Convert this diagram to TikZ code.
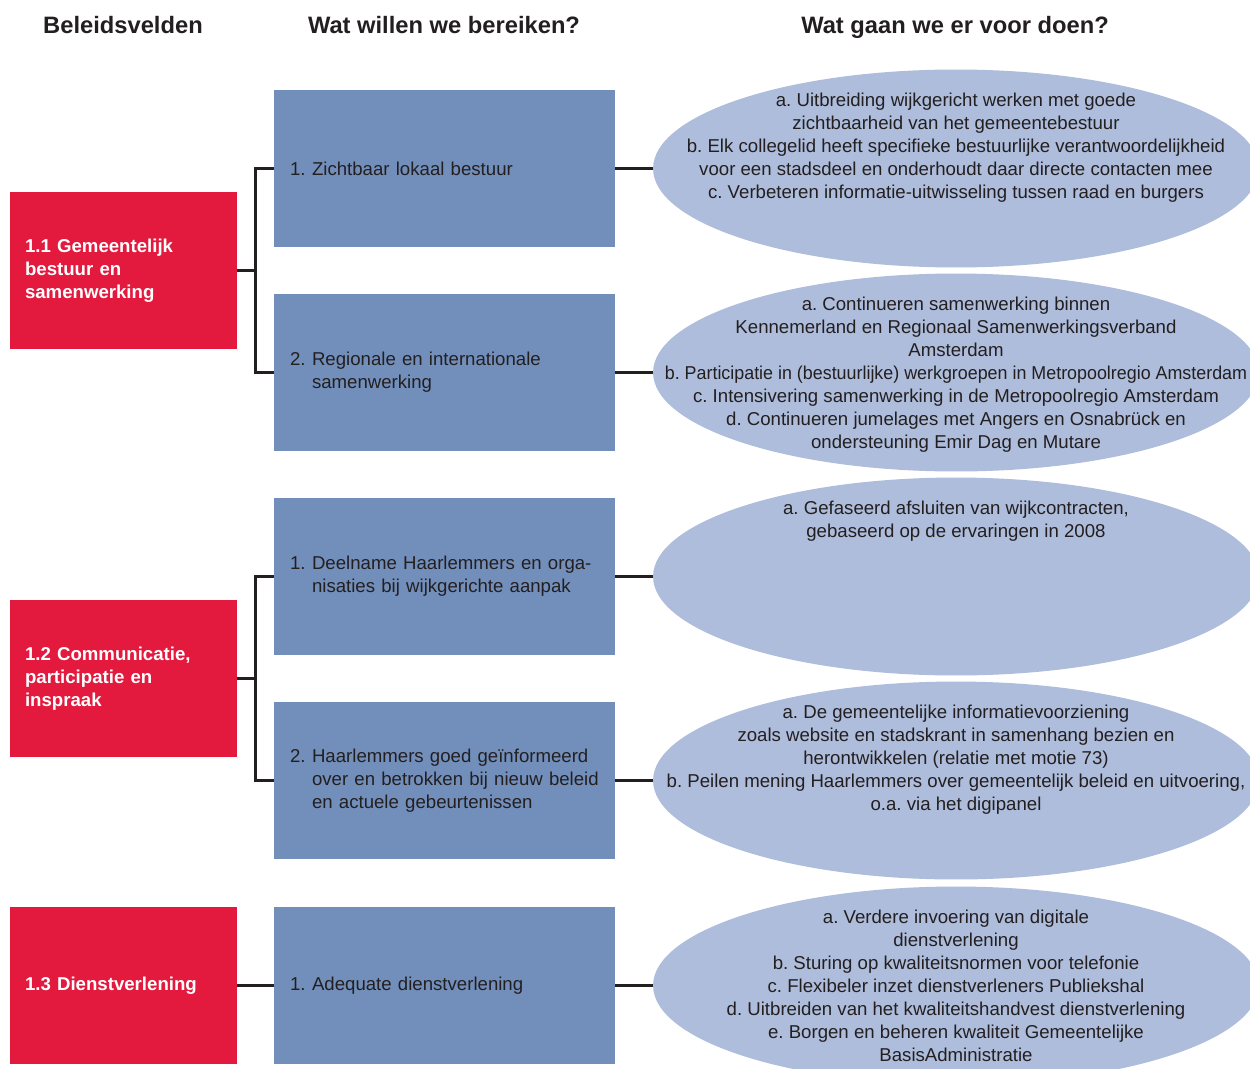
\documentclass[tikz,border=0pt]{standalone}
\usepackage{fontspec}
\setmainfont{Liberation Sans}
\usetikzlibrary{positioning,shapes.geometric}
\definecolor{veldrood}{RGB}{227,25,62}
\definecolor{doelblauw}{RGB}{114,143,187}
\definecolor{actieblauw}{RGB}{174,189,219}
\definecolor{tekstgrijs}{RGB}{35,31,32}
\newcommand{\nr}[1]{\makebox[0.44cm][l]{#1}}
\newcommand{\inspring}{\hspace*{0.44cm}}

\begin{document}
\frenchspacing
\begin{tikzpicture}[x=0.02cm, y=-0.02cm,
    kop/.style={font=\fontsize{13.5}{16}\selectfont\bfseries, text=tekstgrijs, anchor=base},
    veld/.style={fill=veldrood, text=white, font=\fontsize{10.6}{13.1}\selectfont\bfseries,
        text width=3.94cm, inner xsep=0.3cm, minimum height=3.14cm, align=left},
    doel/.style={fill=doelblauw, text=tekstgrijs, font=\fontsize{10.6}{13.1}\selectfont,
        text width=6.18cm, inner xsep=0.32cm, minimum height=3.14cm, align=left},
    actie/.style={ellipse, fill=actieblauw, minimum width=12.12cm, minimum height=3.96cm, inner sep=0},
    actietekst/.style={text=tekstgrijs, font=\fontsize{10.6}{13.1}\selectfont, align=center, inner sep=0},
    lijn/.style={draw=tekstgrijs, line width=0.05cm}]
        \useasboundingbox (0,0) rectangle (1250,1068);
        \clip (0,0) rectangle (1250,1068);
        % kolomkoppen
        \node[kop] (kop1) at (123,33.5) {Beleidsvelden};
        \node[kop] (kop2) at (444,33.5) {Wat willen we bereiken?};
        \node[kop] (kop3) at (955,33.5) {Wat gaan we er voor doen?};
        % beleidsvelden
        \node[veld] (v1) at (123.5,270.5) {1.1 Gemeentelijk\\bestuur en\\samenwerking};
        \node[veld] (v2) at (123.5,678.5) {1.2 Communicatie,\\participatie en\\inspraak};
        \node[veld] (v3) at (123.5,985.5) {1.3 Dienstverlening};
        % doelen
        \node[doel] (d11) at (444.5,168.5) {\nr{1.}Zichtbaar lokaal bestuur};
        \node[doel] (d12) at (444.5,372.5) {\nr{2.}Regionale en internationale\\\inspring samenwerking};
        \node[doel] (d21) at (444.5,576.5) {\nr{1.}Deelname Haarlemmers en orga-\\\inspring nisaties bij wijkgerichte aanpak};
        \node[doel] (d22) at (444.5,780.5) {\nr{2.}Haarlemmers goed geïnformeerd\\\inspring over en betrokken bij nieuw beleid\\\inspring en actuele gebeurtenissen};
        \node[doel] (d31) at (444.5,985.5) {\nr{1.}Adequate dienstverlening};
        % acties
        \node[actie] (a11) at (956,168.5) {};
        \node[actie] (a12) at (956,372.5) {};
        \node[actie] (a21) at (956,576.5) {};
        \node[actie] (a22) at (956,780.5) {};
        \node[actie] (a31) at (956,985.5) {};
        \node[actietekst, below=0.47cm of a11.north] (t11) {a. Uitbreiding wijkgericht werken met goede\\zichtbaarheid van het gemeentebestuur\\b. Elk collegelid heeft specifieke bestuurlijke verantwoordelijkheid\\voor een stadsdeel en onderhoudt daar directe contacten mee\\c. Verbeteren informatie-uitwisseling tussen raad en burgers};
        \node[actietekst, below=0.47cm of a12.north] (t12) {a. Continueren samenwerking binnen\\Kennemerland en Regionaal Samenwerkingsverband\\Amsterdam\\\scalebox{0.96}[1]{b. Participatie in (bestuurlijke) werkgroepen in Metropoolregio Amsterdam}\\c. Intensivering samenwerking in de Metropoolregio Amsterdam\\d. Continueren jumelages met Angers en Osnabrück en\\ondersteuning Emir Dag en Mutare};
        \node[actietekst, below=0.47cm of a21.north] (t21) {a. Gefaseerd afsluiten van wijkcontracten,\\gebaseerd op de ervaringen in 2008};
        \node[actietekst, below=0.47cm of a22.north] (t22) {a. De gemeentelijke informatievoorziening\\zoals website en stadskrant in samenhang bezien en\\herontwikkelen (relatie met motie 73)\\b. Peilen mening Haarlemmers over gemeentelijk beleid en uitvoering,\\o.a. via het digipanel};
        \node[actietekst, below=0.47cm of a31.north] (t31) {a. Verdere invoering van digitale\\dienstverlening\\b. Sturing op kwaliteitsnormen voor telefonie\\c. Flexibeler inzet dienstverleners Publiekshal\\d. Uitbreiden van het kwaliteitshandvest dienstverlening\\e. Borgen en beheren kwaliteit Gemeentelijke\\BasisAdministratie};
        % verbindingen
        \draw[lijn] (d11.west) -- ++(-18,0) |- (d12.west);
        \draw[lijn] (v1.east) -- ++(19,0);
        \draw[lijn] (d21.west) -- ++(-18,0) |- (d22.west);
        \draw[lijn] (v2.east) -- ++(19,0);
        \draw[lijn] (v3.east) -- (d31.west);
        \foreach \n in {11,12,21,22,31}
            \draw[lijn] (d\n.east) -- (a\n.west);
\end{tikzpicture}
\end{document}
